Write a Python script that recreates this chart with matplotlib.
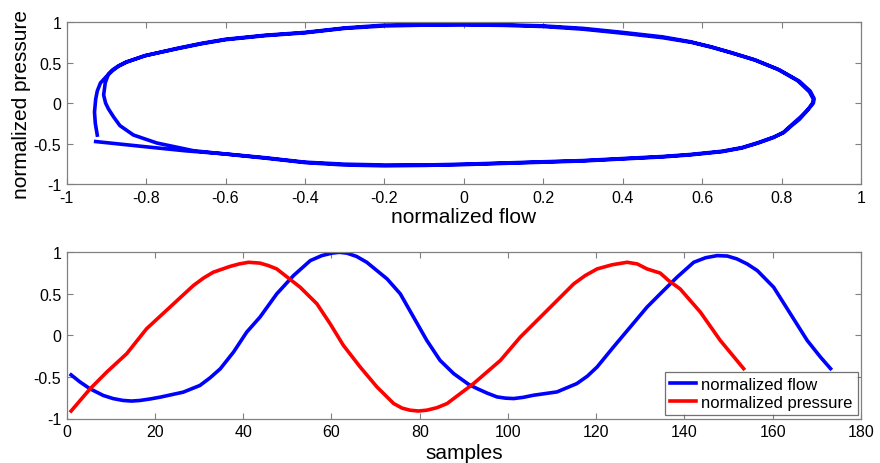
import matplotlib
matplotlib.use("Agg")
import matplotlib.pyplot as plt
from matplotlib.ticker import FixedLocator, FixedFormatter

plt.rcParams['font.family'] = ['Liberation Sans', 'DejaVu Sans']

# ---------------- data ----------------
# Top panel: pressure-flow loop (two cycles), in drawing order
loop_flow = [-0.927, -0.8, -0.7, -0.6, -0.5, -0.4, -0.3, -0.2, -0.1, 0.0, 0.1, 0.2, 0.3, 0.4, 0.5,
             0.57, 0.65, 0.7, 0.74, 0.78, 0.805, 0.825, 0.845, 0.865, 0.878, 0.88, 0.87, 0.84,
             0.79, 0.73, 0.67, 0.62, 0.57, 0.5, 0.4, 0.3, 0.2, 0.1, 0.0, -0.1, -0.2, -0.3, -0.4,
             -0.5, -0.6, -0.66, -0.72, -0.8, -0.85, -0.87, -0.885, -0.895, -0.903, -0.907,
             -0.902, -0.895, -0.882, -0.866, -0.832, -0.773, -0.681, -0.6,
             -0.5, -0.4, -0.3, -0.2, -0.1, 0.0, 0.1, 0.2, 0.3, 0.4, 0.5, 0.57, 0.65, 0.7, 0.74,
             0.78, 0.805, 0.825, 0.848, 0.868, 0.88, 0.882, 0.872, 0.845, 0.795, 0.735, 0.675,
             0.625, 0.575, 0.5, 0.4, 0.3, 0.2, 0.1, 0.0, -0.1, -0.2, -0.3, -0.4, -0.5, -0.6,
             -0.66, -0.72, -0.805, -0.85, -0.87, -0.885, -0.9, -0.915, -0.923, -0.927, -0.93,
             -0.928, -0.923]
loop_pressure = [-0.475, -0.54, -0.59, -0.628, -0.675, -0.73, -0.755, -0.765, -0.765, -0.755, -0.74,
                 -0.725, -0.71, -0.685, -0.66, -0.635, -0.595, -0.55, -0.49, -0.42, -0.365, -0.28,
                 -0.2, -0.09, 0.0, 0.05, 0.14, 0.28, 0.42, 0.54, 0.63, 0.7, 0.76, 0.82, 0.875,
                 0.925, 0.955, 0.97, 0.975, 0.973, 0.965, 0.93, 0.875, 0.84, 0.79, 0.74, 0.68,
                 0.59, 0.51, 0.46, 0.41, 0.36, 0.25, 0.1, 0.0, -0.07, -0.17, -0.278, -0.394,
                 -0.493, -0.588, -0.63,
                 -0.68, -0.735, -0.765, -0.775, -0.77, -0.76, -0.745, -0.73, -0.715, -0.69, -0.665,
                 -0.64, -0.6, -0.555, -0.495, -0.425, -0.36, -0.27, -0.17, -0.07, 0.0, 0.055, 0.15,
                 0.27, 0.41, 0.53, 0.62, 0.69, 0.75, 0.81, 0.865, 0.915, 0.948, 0.962, 0.968,
                 0.965, 0.955, 0.925, 0.87, 0.835, 0.785, 0.735, 0.675, 0.585, 0.505, 0.455, 0.40,
                 0.33, 0.25, 0.15, 0.05, -0.11, -0.25, -0.395]

# Bottom panel: time series
flow_samples = [1, 3, 5.3, 8.3, 10.5, 12.8, 14.7, 16.6, 18.9, 21.2, 26.4, 30.2, 32.5, 34.8, 37.8,
                40.8, 43.8, 47.6, 51.4, 55.2, 57.8, 60.1, 61.8, 63.5, 65.7, 68.0, 72.6, 75.6, 78.6,
                81.6, 84.6, 87.7, 91.1, 93.0, 95.3, 97.5, 99.4, 101.3, 103.5, 105.8, 111.1, 115.6,
                118.0, 120.2, 123.9, 127.7, 131.5, 134.5, 138.3, 142.1, 144.8, 147.4, 149.7,
                151.9, 154.2, 156.5, 160.2, 164.0, 167.8, 170.8, 173.1]
flow_values = [-0.475, -0.56, -0.643, -0.723, -0.76, -0.783, -0.79, -0.783, -0.765, -0.743, -0.683,
               -0.602, -0.51, -0.402, -0.201, 0.04, 0.22, 0.50, 0.72, 0.90, 0.96, 0.99, 1.0, 0.99,
               0.95, 0.88, 0.68, 0.50, 0.22, -0.06, -0.30, -0.46, -0.59, -0.64, -0.695, -0.74,
               -0.755, -0.76, -0.745, -0.72, -0.68, -0.58, -0.49, -0.38, -0.14, 0.10, 0.34, 0.50,
               0.70, 0.88, 0.935, 0.96, 0.955, 0.92, 0.86, 0.78, 0.58, 0.26, -0.06, -0.26, -0.40]
pressure_samples = [1, 5.3, 9.1, 13.6, 18.1, 23.4, 28.7, 31.0, 33.2, 37.0, 39.1, 41.2, 43.8, 45.7,
                    47.6, 52.9, 56.7, 59.7, 62.7, 66.5, 70.3, 74.1, 76.0, 77.8, 79.7, 81.6, 83.9,
                    86.2, 89.2, 92.2, 98.3, 102.8, 108.1, 114.9, 117.5, 120.2, 123.6, 127.0, 129.3,
                    131.5, 134.5, 136.4, 139.0, 143.6, 148.1, 153.4]
pressure_values = [-0.91, -0.643, -0.44, -0.22, 0.08, 0.34, 0.60, 0.69, 0.76, 0.83, 0.86, 0.88,
                   0.87, 0.84, 0.80, 0.58, 0.38, 0.14, -0.12, -0.38, -0.62, -0.82, -0.875, -0.90,
                   -0.91, -0.90, -0.87, -0.82, -0.70, -0.58, -0.30, -0.02, 0.26, 0.62, 0.72, 0.80,
                   0.85, 0.88, 0.86, 0.80, 0.75, 0.66, 0.56, 0.28, -0.06, -0.40]

top_xticks = [-1, -0.8, -0.6, -0.4, -0.2, 0, 0.2, 0.4, 0.6, 0.8, 1]
top_xticklabels = ['-1', '-0.8', '-0.6', '-0.4', '-0.2', '0', '0.2', '0.4', '0.6', '0.8', '1']
yticks = [-1, -0.5, 0, 0.5, 1]
yticklabels = ['-1', '-0.5', '0', '0.5', '1']
bottom_xticks = [0, 20, 40, 60, 80, 100, 120, 140, 160, 180]
bottom_xticklabels = ['0', '20', '40', '60', '80', '100', '120', '140', '160', '180']

# ---------------- figure ----------------
fig = plt.figure(figsize=(8.8, 4.64), dpi=100)
W, H = 880, 464
ax1 = fig.add_axes([66.7 / W, 1 - 185 / H, (861 - 66.7) / W, (185 - 23.3) / H])
ax2 = fig.add_axes([66.7 / W, 1 - 419.5 / H, (861 - 66.7) / W, (419.5 - 253.3) / H])

BLUE = '#0000ff'
RED = '#ff0000'
LW = 2.6
TICKFS = 11.5
LABELFS = 15

def style(ax, xt, xtl):
    ax.set_ylim(-1, 1)
    ax.yaxis.set_major_locator(FixedLocator(yticks))
    ax.yaxis.set_major_formatter(FixedFormatter(yticklabels))
    ax.xaxis.set_major_locator(FixedLocator(xt))
    ax.xaxis.set_major_formatter(FixedFormatter(xtl))
    for s in ax.spines.values():
        s.set_color('0.5')
        s.set_linewidth(0.9)
    ax.tick_params(direction='in', length=4.5, width=0.8, color='0.5', top=True, right=True,
                   labelsize=TICKFS, labelcolor='black', pad=4)

ax1.plot(loop_flow, loop_pressure, color=BLUE, lw=LW, solid_joinstyle='round')
ax1.set_xlim(-1, 1)
style(ax1, top_xticks, top_xticklabels)
ax1.set_xlabel('normalized flow', fontsize=LABELFS, labelpad=2)
ax1.set_ylabel('normalized pressure', fontsize=LABELFS, labelpad=2)

ax2.plot(flow_samples, flow_values, color=BLUE, lw=LW, label='normalized flow',
         solid_joinstyle='round')
ax2.plot(pressure_samples, pressure_values, color=RED, lw=LW, label='normalized pressure',
         solid_joinstyle='round')
ax2.set_xlim(0, 180)
style(ax2, bottom_xticks, bottom_xticklabels)
ax2.set_xlabel('samples', fontsize=LABELFS, labelpad=3)

leg = ax2.legend(loc='lower right', bbox_to_anchor=(1, 0), fontsize=12, frameon=True,
                 fancybox=False, borderaxespad=0.2, borderpad=0.3, labelspacing=0.2,
                 handlelength=1.6, handletextpad=0.3)
leg.get_frame().set_edgecolor('0.3')
leg.get_frame().set_linewidth(0.9)

fig.savefig('out.png', dpi=100)
